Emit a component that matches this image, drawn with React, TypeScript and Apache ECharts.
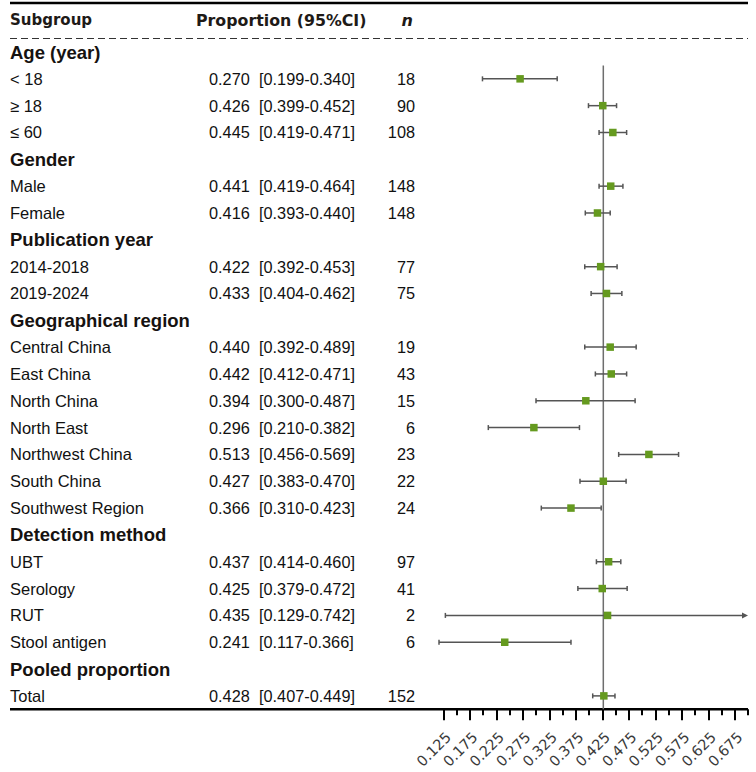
import React, { useEffect, useRef } from "react";
import * as echarts from "echarts";

const rowLabels = [
  "Age (year)", "< 18", "≥ 18", "≤ 60",
  "Gender", "Male", "Female",
  "Publication year", "2014-2018", "2019-2024",
  "Geographical region", "Central China", "East China", "North China", "North East",
  "Northwest China", "South China", "Southwest Region",
  "Detection method", "UBT", "Serology", "RUT", "Stool antigen",
  "Pooled proportion", "Total",
];
const headingRows = [0, 4, 7, 10, 18, 23];
const estimates = [null, 0.270, 0.426, 0.445, null, 0.441, 0.416, null, 0.422, 0.433, null, 0.440, 0.442, 0.394, 0.296, 0.513, 0.427, 0.366, null, 0.437, 0.425, 0.435, 0.241, null, 0.428];
const lowers = [null, 0.199, 0.399, 0.419, null, 0.419, 0.393, null, 0.392, 0.404, null, 0.392, 0.412, 0.300, 0.210, 0.456, 0.383, 0.310, null, 0.414, 0.379, 0.129, 0.117, null, 0.407];
const uppers = [null, 0.340, 0.452, 0.471, null, 0.464, 0.440, null, 0.453, 0.462, null, 0.489, 0.471, 0.487, 0.382, 0.569, 0.470, 0.423, null, 0.460, 0.472, 0.742, 0.366, null, 0.449];
const counts = [null, 18, 90, 108, null, 148, 148, null, 77, 75, null, 19, 43, 15, 6, 23, 22, 24, null, 97, 41, 2, 6, null, 152];
const headerTexts = ["Subgroup", "Proportion (95%CI)", "n"];
const labelTickValues = [0.125, 0.175, 0.225, 0.275, 0.325, 0.375, 0.425, 0.475, 0.525, 0.575, 0.625, 0.675];
const minorTickValues = [0.15, 0.2, 0.25, 0.3, 0.35, 0.4, 0.45, 0.5, 0.55, 0.6, 0.65, 0.7];
const referenceValue = 0.427;
const AXIS_MIN = 0.1;
const AXIS_MAX = 0.7;

const SANS = "'Liberation Sans', Arial, sans-serif";
const VERD = "'DejaVu Sans', Verdana, sans-serif";
const GREEN = "#659a1f";
const BAR = "#555555";

export default function App() {
  const ref = useRef<HTMLDivElement>(null);
  useEffect(() => {
    if (!ref.current) return;
    const chart = echarts.init(ref.current, null, { renderer: "svg" });
    const ciData: number[][] = [];
    estimates.forEach((e, i) => {
      if (e !== null) ciData.push([e, lowers[i] as number, uppers[i] as number, i]);
    });
    const gridTop = 38.6;
    const gridBottomY = 709.3;
    const option: any = {
      animation: false,
      backgroundColor: "#ffffff",
      grid: { left: 430, right: 8, top: gridTop, bottom: 772 - gridBottomY, containLabel: false },
      xAxis: [
        {
          type: "value", min: AXIS_MIN, max: AXIS_MAX, position: "bottom",
          splitLine: { show: false },
          axisLine: { show: false, onZero: false },
          axisTick: { show: true, customValues: labelTickValues, length: 11, lineStyle: { color: "#000", width: 2 } },
          axisLabel: {
            show: true, customValues: labelTickValues, rotate: 45, margin: 20,
            verticalAlign: "top",
            formatter: (v: number) => v.toFixed(3),
            color: "#3a3a3a", fontFamily: VERD, fontSize: 14.5,
          },
        },
        {
          type: "value", min: AXIS_MIN, max: AXIS_MAX, position: "bottom", offset: 0,
          splitLine: { show: false },
          axisLine: { show: false, onZero: false },
          axisTick: { show: true, customValues: minorTickValues, length: 6, lineStyle: { color: "#000", width: 2 } },
          axisLabel: { show: false },
        },
      ],
      yAxis: {
        type: "value", min: -0.5, max: 24.5, inverse: true, show: false,
        splitLine: { show: false },
        axisLine: { onZero: false },
      },
      graphic: [
        { type: "line", shape: { x1: 10, y1: 3, x2: 748, y2: 3 }, style: { stroke: "#000", lineWidth: 2.5 } },
        { type: "line", shape: { x1: 10, y1: 38.5, x2: 748, y2: 38.5 }, style: { stroke: "#333", lineWidth: 1, lineDash: [7, 4] } },
        { type: "line", shape: { x1: 10, y1: gridBottomY, x2: 748, y2: gridBottomY }, style: { stroke: "#000", lineWidth: 2.5 } },
        { type: "text", x: 10, y: 20, style: { text: headerTexts[0], fill: "#1e1a17", fontFamily: VERD, fontWeight: "bold", fontSize: 15, align: "left", verticalAlign: "middle" } },
        { type: "text", x: 196, y: 20, style: { text: headerTexts[1], fill: "#1e1a17", fontFamily: VERD, fontWeight: "bold", fontSize: 15.8, align: "left", verticalAlign: "middle" } },
        { type: "text", x: 413, y: 20, style: { text: headerTexts[2], fill: "#1e1a17", fontFamily: VERD, fontWeight: "bold", fontStyle: "italic", fontSize: 16, align: "right", verticalAlign: "middle" } },
      ],
      series: [
        {
          type: "line", name: "reference", silent: true, symbol: "none",
          data: [[referenceValue, 0.5], [referenceValue, 24.5]],
          lineStyle: { color: "#6e6e6e", width: 1.5 },
          z: 1,
        },
        {
          type: "custom", name: "table", clip: false, silent: true,
          data: rowLabels.map((_, i) => [AXIS_MIN, i]),
          encode: { x: 0, y: 1 },
          renderItem: (params: any, api: any) => {
            const i = params.dataIndex;
            const y = api.coord([AXIS_MIN, i])[1];
            const heading = headingRows.indexOf(i) >= 0;
            const children: any[] = [];
            children.push({
              type: "text", x: 10, y,
              style: {
                text: rowLabels[i], fill: heading ? "#161210" : "#111",
                fontFamily: SANS, fontWeight: heading ? "bold" : "normal", fontSize: heading ? 18.5 : 16.5,
                align: "left", verticalAlign: "middle",
              },
            });
            if (!heading) {
              const e = estimates[i] as number;
              const lo = lowers[i] as number;
              const hi = uppers[i] as number;
              children.push({ type: "text", x: 209, y, style: { text: e.toFixed(3), fill: "#111", fontFamily: SANS, fontSize: 16.3, align: "left", verticalAlign: "middle" } });
              children.push({ type: "text", x: 259, y, style: { text: "[" + lo.toFixed(3) + "-" + hi.toFixed(3) + "]", fill: "#111", fontFamily: SANS, fontSize: 16.3, align: "left", verticalAlign: "middle" } });
              children.push({ type: "text", x: 415, y, style: { text: String(counts[i]), fill: "#111", fontFamily: SANS, fontSize: 16.3, align: "right", verticalAlign: "middle" } });
            }
            return { type: "group", children };
          },
          z: 3,
        },
        {
          type: "custom", name: "ci", clip: false, silent: true,
          data: ciData,
          encode: { x: [0, 1, 2], y: 3 },
          renderItem: (params: any, api: any) => {
            const est = api.value(0);
            const lo = api.value(1);
            const hi = api.value(2);
            const row = api.value(3);
            const over = hi > AXIS_MAX;
            const pLo = api.coord([lo, row]);
            const pHi = api.coord([over ? AXIS_MAX : hi, row]);
            const pE = api.coord([est, row]);
            const y = pE[1];
            const s = 7.5;
            const children: any[] = [
              { type: "line", shape: { x1: pLo[0], y1: y, x2: over ? pHi[0] - 4 : pHi[0], y2: y }, style: { stroke: BAR, lineWidth: 1.5 } },
              { type: "line", shape: { x1: pLo[0], y1: y - 2.5, x2: pLo[0], y2: y + 2.5 }, style: { stroke: BAR, lineWidth: 1.5 } },
            ];
            if (over) {
              children.push({ type: "polygon", shape: { points: [[pHi[0], y], [pHi[0] - 6, y - 3], [pHi[0] - 6, y + 3]] }, style: { fill: BAR } });
            } else {
              children.push({ type: "line", shape: { x1: pHi[0], y1: y - 2.5, x2: pHi[0], y2: y + 2.5 }, style: { stroke: BAR, lineWidth: 1.5 } });
            }
            children.push({ type: "rect", shape: { x: pE[0] - s / 2, y: y - s / 2, width: s, height: s }, style: { fill: GREEN } });
            return { type: "group", children };
          },
          z: 4,
        },
      ],
    };
    chart.setOption(option);
    return () => chart.dispose();
  }, []);
  return <div ref={ref} style={{ position: "fixed", left: 0, top: 0, width: 756, height: 772, background: "#fff" }} />;
}
